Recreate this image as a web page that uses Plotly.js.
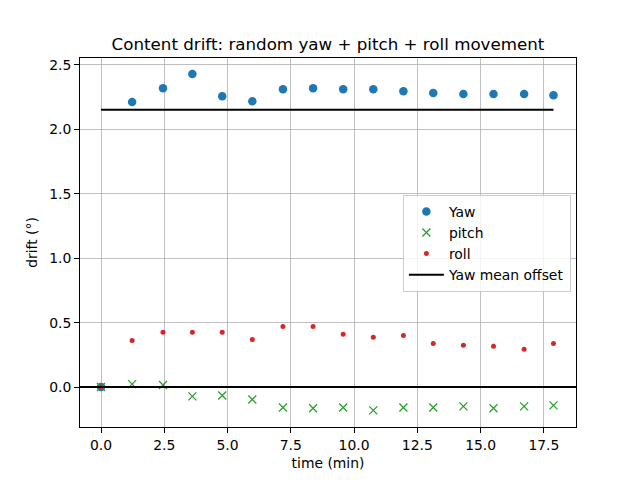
<!DOCTYPE html>
<html>
<head>
<meta charset="utf-8">
<script src="https://cdn.plot.ly/plotly-3.0.1.min.js"></script>
<style>html,body{margin:0;padding:0;background:#fff;}#chart{width:640px;height:480px;}</style>
</head>
<body>
<div id="chart"></div>
<script>
// time (min)
var timeMin = [0, 1.23, 2.45, 3.61, 4.79, 5.98, 7.19, 8.38, 9.57, 10.76, 11.95, 13.13, 14.32, 15.51, 16.72, 17.88];
var yawDrift = [0, 2.213, 2.319, 2.43, 2.257, 2.218, 2.311, 2.319, 2.311, 2.311, 2.296, 2.283, 2.275, 2.275, 2.275, 2.265];
var pitchDrift = [0, 0.023, 0.016, -0.072, -0.065, -0.096, -0.158, -0.165, -0.158, -0.181, -0.158, -0.158, -0.150, -0.165, -0.150, -0.142];
var rollDrift = [0, 0.362, 0.425, 0.425, 0.425, 0.370, 0.471, 0.471, 0.409, 0.386, 0.401, 0.339, 0.324, 0.316, 0.293, 0.339];
var yawMeanOffset = 2.153;
var xTickVals = [0, 2.5, 5, 7.5, 10, 12.5, 15, 17.5];
var xTickText = ["0.0", "2.5", "5.0", "7.5", "10.0", "12.5", "15.0", "17.5"];
var yTickVals = [0, 0.5, 1, 1.5, 2, 2.5];
var yTickText = ["0.0", "0.5", "1.0", "1.5", "2.0", "2.5"];

var font = "DejaVu Sans, sans-serif";
var traces = [
  {x: timeMin, y: yawDrift, mode: "markers", type: "scatter", name: "Yaw",
   marker: {color: "#1f77b4", size: 8.5, symbol: "circle"}},
  {x: timeMin, y: pitchDrift, mode: "markers", type: "scatter", name: "pitch",
   marker: {color: "#2ca02c", size: 8, symbol: "x-thin", line: {color: "#2ca02c", width: 1.3}}},
  {x: timeMin, y: rollDrift, mode: "markers", type: "scatter", name: "roll",
   marker: {color: "#d62728", size: 5, symbol: "circle"}},
  {x: [timeMin[0], timeMin[timeMin.length - 1]], y: [yawMeanOffset, yawMeanOffset],
   mode: "lines", type: "scatter", name: "Yaw mean offset",
   line: {color: "#000", width: 2}}
];

var axisCommon = {
  showline: true, linecolor: "#000", linewidth: 1, mirror: true,
  ticks: "outside", ticklen: 5, tickcolor: "#000", tickwidth: 1,
  showgrid: true, gridcolor: "#b0b0b0", gridwidth: 0.8,
  zeroline: false, tickfont: {family: font, size: 13.9, color: "#000"}
};

var layout = {
  width: 640, height: 480,
  paper_bgcolor: "#fff", plot_bgcolor: "#fff",
  margin: {l: 80, r: 64, t: 58, b: 53},
  title: {text: "Content drift: random yaw + pitch + roll movement",
          font: {family: font, size: 16.7, color: "#000"},
          x: 0.5, xref: "paper", xanchor: "center", y: 0.908, yref: "container", yanchor: "middle"},
  xaxis: Object.assign({}, axisCommon, {
    range: [-0.83, 18.77], tickvals: xTickVals, ticktext: xTickText,
    title: {text: "time (min)", font: {family: font, size: 13.9, color: "#000"}, standoff: 6}
  }),
  yaxis: Object.assign({}, axisCommon, {
    range: [-0.31, 2.554], tickvals: yTickVals, ticktext: yTickText,
    title: {text: "drift (°)", font: {family: font, size: 13.9, color: "#000"}, standoff: 8}
  }),
  legend: {x: 0.651, y: 0.629, xanchor: "left", yanchor: "top",
           bgcolor: "rgba(255,255,255,0.8)", bordercolor: "#cccccc", borderwidth: 1,
           itemwidth: 35,
           font: {family: font, size: 13.9, color: "#000"}, tracegroupgap: 0},
  shapes: [{type: "line", xref: "paper", x0: 0, x1: 1, yref: "y", y0: 0, y1: 0,
            line: {color: "#000", width: 2}, layer: "above"}],
  showlegend: true
};

Plotly.newPlot("chart", traces, layout, {displayModeBar: false, staticPlot: true});
</script>
</body>
</html>
